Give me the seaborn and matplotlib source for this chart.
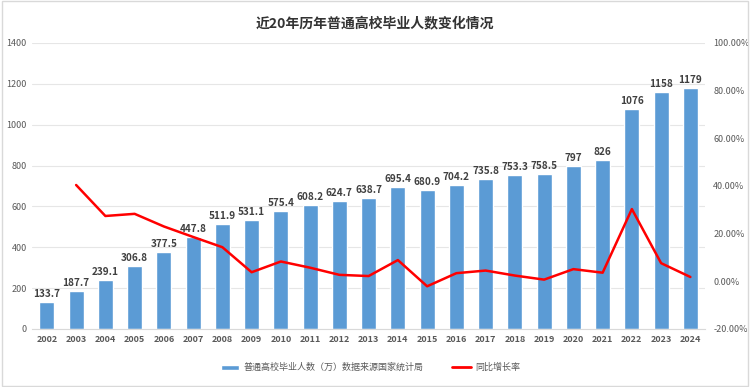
import matplotlib
matplotlib.use('Agg')
import matplotlib.pyplot as plt
import numpy as np
import pandas as pd
import seaborn as sns
from matplotlib.patches import Patch
from matplotlib.lines import Line2D

# data
years = ['2002', '2003', '2004', '2005', '2006', '2007', '2008', '2009', '2010', '2011', '2012',
         '2013', '2014', '2015', '2016', '2017', '2018', '2019', '2020', '2021', '2022', '2023', '2024']
graduates = [133.7, 187.7, 239.1, 306.8, 377.5, 447.8, 511.9, 531.1, 575.4, 608.2, 624.7,
             638.7, 695.4, 680.9, 704.2, 735.8, 753.3, 758.5, 797, 826, 1076, 1158, 1179]
labels = ['133.7', '187.7', '239.1', '306.8', '377.5', '447.8', '511.9', '531.1', '575.4', '608.2', '624.7',
          '638.7', '695.4', '680.9', '704.2', '735.8', '753.3', '758.5', '797', '826', '1076', '1158', '1179']
growth = [np.nan, 40.4, 27.4, 28.3, 23.0, 18.6, 14.3, 3.8, 8.3, 5.7, 2.7,
          2.2, 8.9, -2.1, 3.4, 4.5, 2.4, 0.7, 5.1, 3.6, 30.3, 7.6, 1.8]

df = pd.DataFrame({'year': years, 'value': graduates, 'growth': growth})
df['pos'] = range(len(df))

sns.set_style('white')
plt.rcParams['font.family'] = ['Noto Sans CJK SC', 'DejaVu Sans']

blue = '#5B9BD5'
red = '#FF0000'
tick_col = '#595959'

fig = plt.figure(figsize=(7.5, 3.87), dpi=100)
fig.patch.set_facecolor('white')
ax = fig.add_axes([0.043, 0.15, 0.897, 0.739])

sns.barplot(data=df, x='year', y='value', color=blue, width=0.52, saturation=1, ax=ax)
ax.set_ylim(0, 1400)
ax.set_yticks(range(0, 1401, 200))
ax.set_xlim(-0.5, len(years) - 0.5)
ax.set_xlabel('')
ax.set_ylabel('')
ax.grid(axis='y', color='#E6E6E6', linewidth=0.8)
ax.set_axisbelow(True)
for s in ['top', 'right', 'left']:
    ax.spines[s].set_visible(False)
ax.spines['bottom'].set_color('#D9D9D9')
ax.tick_params(axis='both', length=0, labelsize=6.5, labelcolor=tick_col, pad=4)
for t in ax.get_xticklabels():
    t.set_fontweight('bold')

for bar, lab in zip(ax.patches, labels):
    ax.text(bar.get_x() + bar.get_width() / 2, bar.get_height() + 15, lab,
            ha='center', va='bottom', fontsize=7.2, fontweight='bold', color='#404040')

ax2 = ax.twinx()
sns.lineplot(data=df, x='pos', y='growth', color=red, linewidth=1.8, ax=ax2)
ax2.set_ylim(-20, 100)
ax2.set_yticks(range(-20, 101, 20))
ax2.set_yticklabels([f'{v:.2f}%' for v in range(-20, 101, 20)])
ax2.set_xlim(-0.5, len(years) - 0.5)
ax2.set_xlabel('')
ax2.set_ylabel('')
for s in ['top', 'right', 'left', 'bottom']:
    ax2.spines[s].set_visible(False)
ax2.tick_params(axis='y', length=0, labelsize=6.5, labelcolor=tick_col, pad=6)

fig.text(0.5, 0.94, '近20年历年普通高校毕业人数变化情况', ha='center', va='center',
         fontsize=10, fontweight='bold', color='#333333')

handles = [Patch(facecolor=blue, label='普通高校毕业人数（万）数据来源国家统计局'),
           Line2D([0], [0], color=red, linewidth=2, label='同比增长率')]
fig.legend(handles=handles, loc='center', bbox_to_anchor=(0.494, 0.05), ncol=2, frameon=False,
           fontsize=6.5, labelcolor=tick_col, handlelength=2.0, handleheight=0.5,
           handletextpad=0.5, columnspacing=3.2)

fig.add_artist(plt.Rectangle((0.003, 0.003), 0.994, 0.994, transform=fig.transFigure,
                             fill=False, edgecolor='#D9D9D9', linewidth=1))

fig.savefig('out.png', dpi=100, facecolor='white')
